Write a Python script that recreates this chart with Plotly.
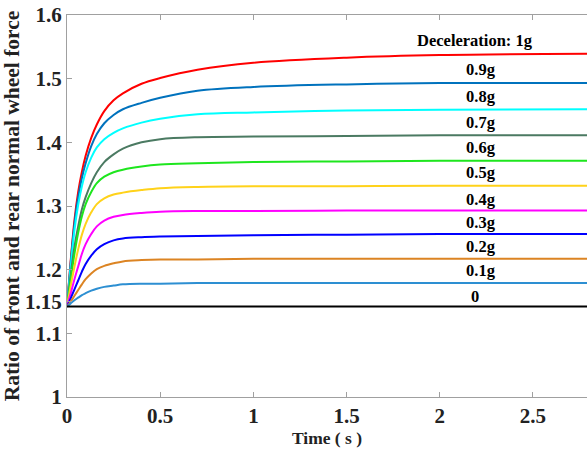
import plotly.graph_objects as go

# Time samples (s)
t = [0, 0.02, 0.04, 0.06, 0.08, 0.1, 0.13, 0.16, 0.2, 0.25, 0.3, 0.4, 0.5, 0.7, 1.0, 1.5, 2.0, 2.8]

# Ratio values, one list per deceleration
r_1g  = [1.142, 1.215, 1.278, 1.322, 1.354, 1.379, 1.407, 1.428, 1.449, 1.466, 1.477, 1.492, 1.501, 1.514, 1.525, 1.533, 1.537, 1.539]
r_09g = [1.142, 1.212, 1.272, 1.314, 1.344, 1.367, 1.394, 1.413, 1.430, 1.443, 1.452, 1.462, 1.470, 1.481, 1.487, 1.491, 1.493, 1.493]
r_08g = [1.142, 1.205, 1.262, 1.302, 1.331, 1.353, 1.376, 1.392, 1.405, 1.415, 1.422, 1.431, 1.437, 1.444, 1.447, 1.450, 1.451, 1.452]
r_07g = [1.142, 1.192, 1.236, 1.268, 1.295, 1.314, 1.336, 1.353, 1.369, 1.381, 1.390, 1.400, 1.405, 1.408, 1.409, 1.410, 1.411, 1.411]
r_06g = [1.142, 1.185, 1.225, 1.258, 1.284, 1.303, 1.322, 1.336, 1.346, 1.353, 1.357, 1.362, 1.365, 1.367, 1.369, 1.370, 1.371, 1.371]
r_05g = [1.142, 1.175, 1.205, 1.232, 1.255, 1.272, 1.290, 1.303, 1.312, 1.318, 1.321, 1.325, 1.328, 1.330, 1.331, 1.331, 1.332, 1.332]
r_04g = [1.142, 1.163, 1.185, 1.205, 1.225, 1.240, 1.256, 1.268, 1.277, 1.283, 1.286, 1.289, 1.291, 1.292, 1.292, 1.293, 1.293, 1.293]
r_03g = [1.142, 1.155, 1.169, 1.183, 1.197, 1.209, 1.222, 1.232, 1.240, 1.246, 1.249, 1.251, 1.252, 1.253, 1.254, 1.255, 1.256, 1.256]
r_02g = [1.142, 1.150, 1.159, 1.168, 1.177, 1.185, 1.194, 1.201, 1.206, 1.210, 1.213, 1.215, 1.216, 1.216, 1.217, 1.217, 1.217, 1.217]
r_01g = [1.142, 1.147, 1.152, 1.156, 1.160, 1.163, 1.167, 1.170, 1.173, 1.175, 1.177, 1.178, 1.178, 1.179, 1.179, 1.179, 1.179, 1.179]
r_0g  = [1.142] * len(t)

series = [r_1g, r_09g, r_08g, r_07g, r_06g, r_05g, r_04g, r_03g, r_02g, r_01g, r_0g]
colors = ["#ff0000", "#0072bd", "#00ffff", "#4b7a62", "#1ee61e", "#ffd21a",
          "#ff00ff", "#0000ff", "#dc8423", "#2d8fd2", "#000000"]

labels = ["Deceleration: 1g", "0.9g", "0.8g", "0.7g", "0.6g", "0.5g",
          "0.4g", "0.3g", "0.2g", "0.1g", "0"]
label_x = [2.19, 2.22, 2.22, 2.22, 2.22, 2.22, 2.22, 2.22, 2.22, 2.22, 2.19]
label_y = [1.560, 1.515, 1.472, 1.431, 1.392, 1.352, 1.311, 1.2745, 1.2366, 1.1987, 1.158]

yticks = [1, 1.1, 1.15, 1.2, 1.3, 1.4, 1.5, 1.6]
yticktext = ["1", "1.1", "1.15", "1.2", "1.3", "1.4", "1.5", "1.6"]
xticks = [0, 0.5, 1, 1.5, 2, 2.5]
xticktext = ["0", "0.5", "1", "1.5", "2", "2.5"]

serif = "Liberation Serif"

fig = go.Figure()
for ys, c in zip(series, colors):
    fig.add_trace(go.Scatter(x=t, y=ys, mode="lines",
                             line=dict(color=c, width=2, shape="spline", smoothing=1.0),
                             showlegend=False, hoverinfo="skip"))

for txt, lx, ly in zip(labels, label_x, label_y):
    fig.add_annotation(x=lx, y=ly, text=txt, showarrow=False,
                       font=dict(family=serif, size=16.5, color="black", weight="bold"))

axis_common = dict(showline=True, linecolor="#a0a0a0", linewidth=1,
                   ticks="inside", ticklen=5, tickcolor="#a0a0a0",
                   showgrid=False, zeroline=False, automargin=False,
                   ticklabeloverflow="allow",
                   tickfont=dict(family=serif, size=21, color="#222222", weight="bold"))

fig.update_xaxes(range=[0, 2.79], tickvals=xticks, ticktext=xticktext, mirror="ticks",
                 title=dict(text="Time ( s )", standoff=0,
                            font=dict(family=serif, size=17.5, color="#222222", weight="bold")),
                 **axis_common)
fig.update_yaxes(range=[1, 1.6], tickvals=yticks, ticktext=yticktext, mirror=False,
                 title=dict(text="Ratio of front and rear normal wheel force", standoff=6,
                            font=dict(family=serif, size=21.5, color="#222222", weight="bold")),
                 **axis_common)

fig.update_layout(width=587, height=452, margin=dict(l=67, r=0, t=15, b=55),
                  paper_bgcolor="white", plot_bgcolor="white")

# remove the default 8px page margin so the figure fills the window exactly
fig.write_html("out.html", config={"displayModeBar": False},
               post_script="document.body.style.margin='0';document.body.style.overflow='hidden';")
